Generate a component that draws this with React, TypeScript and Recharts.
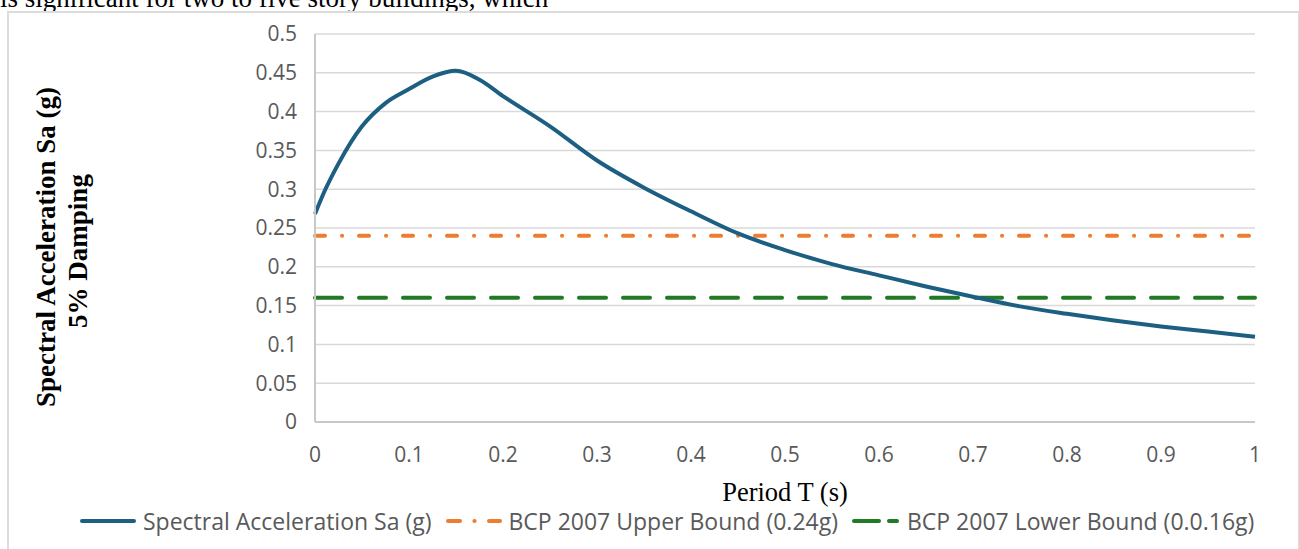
import React from 'react';
import { LineChart, Line, XAxis, YAxis, CartesianGrid } from 'recharts';

const periodT = [0, 0.01, 0.025, 0.05, 0.075, 0.1, 0.125, 0.15, 0.175, 0.2, 0.25, 0.3, 0.35, 0.4, 0.45, 0.5, 0.55, 0.6, 0.65, 0.7, 0.75, 0.8, 0.85, 0.9, 0.95, 1.0];
const spectralSa = [0.268, 0.297, 0.333, 0.381, 0.411, 0.429, 0.445, 0.4525, 0.441, 0.42, 0.381, 0.337, 0.302, 0.2715, 0.243, 0.2216, 0.2035, 0.189, 0.1747, 0.1615, 0.149, 0.1394, 0.1308, 0.1231, 0.1165, 0.11];
const upperBound = 0.24;
const lowerBound = 0.16;

const xTicks = [0, 0.1, 0.2, 0.3, 0.4, 0.5, 0.6, 0.7, 0.8, 0.9, 1];
const yTicks = [0, 0.05, 0.1, 0.15, 0.2, 0.25, 0.3, 0.35, 0.4, 0.45, 0.5];

const seriesNames = [
  'Spectral Acceleration Sa (g)',
  'BCP 2007 Upper Bound (0.24g)',
  'BCP 2007 Lower Bound (0.0.16g)',
];

const BLUE = '#1d5f82';
const ORANGE = '#ed7d31';
const GREEN = '#217a24';
const GRID = '#d9d9d9';
const TEXT = '#595959';
const SANS = '"Open Sans", "Noto Sans", sans-serif';
const SERIF = '"Liberation Serif", "Times New Roman", serif';

const data = periodT.map((t, i) => ({ t, sa: spectralSa[i], upper: upperBound, lower: lowerBound }));

const fmt = (v: number) => String(+v.toFixed(2));

const YTitle = (props: any) => {
  return (
    <g>
      <text x={55} y={247} transform="rotate(-90, 55, 247)" textAnchor="middle"
        style={{ fontFamily: SERIF, fontWeight: 'bold', fontSize: 27, fill: '#000' }}>
        Spectral Acceleration Sa (g)
      </text>
      <text x={87} y={251} transform="rotate(-90, 87, 251)" textAnchor="middle"
        style={{ fontFamily: SERIF, fontWeight: 'bold', fontSize: 27, fill: '#000' }}>
        5% Damping
      </text>
    </g>
  );
};

const LegendIcon = ({ kind }: { kind: number }) => {
  if (kind === 0) {
    return (
      <svg width={56} height={10}><line x1={2} y1={5} x2={54} y2={5} stroke={BLUE} strokeWidth={4} strokeLinecap="round" /></svg>
    );
  }
  if (kind === 1) {
    return (
      <svg width={56} height={10}>
        <line x1={2} y1={5} x2={14} y2={5} stroke={ORANGE} strokeWidth={4} strokeLinecap="round" />
        <line x1={28.4} y1={5} x2={28.6} y2={5} stroke={ORANGE} strokeWidth={4} strokeLinecap="round" />
        <line x1={43} y1={5} x2={54} y2={5} stroke={ORANGE} strokeWidth={4} strokeLinecap="round" />
      </svg>
    );
  }
  return (
    <svg width={48} height={10}>
      <line x1={2} y1={5} x2={27} y2={5} stroke={GREEN} strokeWidth={4} strokeLinecap="round" />
      <line x1={37} y1={5} x2={45} y2={5} stroke={GREEN} strokeWidth={4} strokeLinecap="round" />
    </svg>
  );
};

export default function App() {
  return (
    <div style={{ position: 'absolute', left: 0, top: 0, width: 1299, height: 549, overflow: 'hidden', background: '#fff' }}>
      <div style={{ position: 'absolute', left: 0, top: -15.5, fontFamily: SERIF, fontSize: 27, lineHeight: '27px', color: '#000', whiteSpace: 'nowrap' }}>
        is significant for two to five story buildings, which
      </div>
      <div style={{ position: 'absolute', left: 7, top: 11, width: 1289, height: 600, border: '2px solid #dcdcdc', background: '#fff' }} />
      <div style={{ position: 'absolute', left: 0, top: 0 }}>
        <LineChart width={1299} height={549} data={data} margin={{ top: 34, right: 44, bottom: 97, left: 0 }}>
          <CartesianGrid horizontal vertical={false} stroke={GRID} strokeWidth={1.5} />
          <XAxis dataKey="t" type="number" domain={[0, 1]} ticks={xTicks} tickFormatter={fmt}
            height={30} axisLine={{ stroke: '#c8c8c8', strokeWidth: 2 }} tickLine={false} tickSize={0} tickMargin={25}
            tick={{ fill: TEXT, fontSize: 21, fontFamily: SANS }} interval={0}
            label={{ value: 'Period T (s)', position: 'bottom', offset: 30, style: { fontFamily: SERIF, fontSize: 26.5, fill: '#000' } }} />
          <YAxis type="number" domain={[0, 0.5]} ticks={yTicks} tickFormatter={fmt} width={315}
            axisLine={{ stroke: '#c8c8c8', strokeWidth: 2 }} tickLine={false} tickSize={0} tickMargin={18}
            tick={{ fill: TEXT, fontSize: 21, fontFamily: SANS }} interval={0}
            label={{ content: <YTitle /> }} />
          <Line dataKey="upper" name={seriesNames[1]} stroke={ORANGE} strokeWidth={4} dot={false} activeDot={false}
            strokeDasharray="10 17 0.1 16.9" strokeLinecap="round" isAnimationActive={false} type="linear" />
          <Line dataKey="lower" name={seriesNames[2]} stroke={GREEN} strokeWidth={4} dot={false} activeDot={false}
            strokeDasharray="27 17" strokeLinecap="round" isAnimationActive={false} type="linear" />
          <Line dataKey="sa" name={seriesNames[0]} stroke={BLUE} strokeWidth={4} dot={false} activeDot={false}
            isAnimationActive={false} type="monotone" />
        </LineChart>
      </div>
      <div style={{ position: 'absolute', left: 80, top: 508, height: 26, display: 'flex', alignItems: 'center', fontFamily: SANS, fontSize: 23, lineHeight: '26px', color: TEXT, whiteSpace: 'nowrap' }}>
        {seriesNames.map((n, i) => (
          <div key={n} style={{ display: 'flex', alignItems: 'center', marginLeft: i === 0 ? 0 : 14 }}>
            <LegendIcon kind={i} />
            <span style={{ marginLeft: 7 }}>{n}</span>
          </div>
        ))}
      </div>
    </div>
  );
}
